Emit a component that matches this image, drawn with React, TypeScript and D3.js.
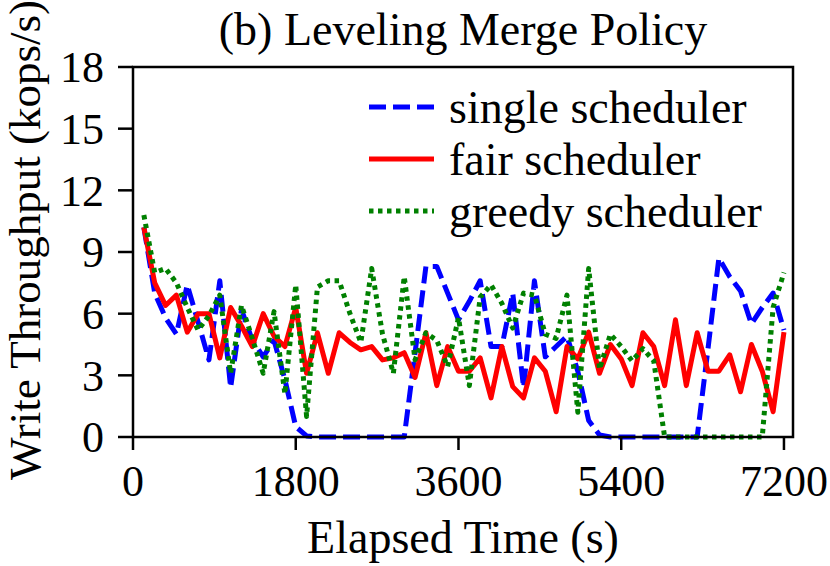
import { useEffect, useRef } from "react";
import * as d3 from "d3";

const TIME = [
  120, 240, 360, 480, 600, 720, 840, 960, 1080, 1200,
  1320, 1440, 1560, 1680, 1800, 1920, 2040, 2160, 2280, 2400,
  2520, 2640, 2760, 2880, 3000, 3120, 3240, 3360, 3480, 3600,
  3720, 3840, 3960, 4080, 4200, 4320, 4440, 4560, 4680, 4800,
  4920, 5040, 5160, 5280, 5400, 5520, 5640, 5760, 5880, 6000,
  6120, 6240, 6360, 6480, 6600, 6720, 6840, 6960, 7080, 7200,
];

// kops/s
const SINGLE = [
  10.2, 7.0, 5.8, 5.0, 7.4, 5.6, 3.75, 7.6, 2.4, 6.2,
  4.7, 3.9, 4.7, 2.8, 0.5, 0.05, 0, 0, 0, 0,
  0, 0, 0, 0, 0, 4.1, 8.3, 8.3, 7.0, 5.7,
  6.6, 7.6, 4.4, 4.4, 7.0, 2.4, 7.6, 3.9, 4.4, 4.9,
  3.2, 0.8, 0.1, 0, 0, 0, 0, 0, 0, 0,
  0, 0, 4.3, 8.7, 7.8, 7.1, 5.5, 6.3, 7.0, 5.2,
];

const FAIR = [
  10.2, 7.5, 6.4, 6.9, 5.1, 6.0, 6.0, 3.85, 6.3, 5.4,
  4.4, 6.0, 4.9, 4.4, 6.3, 3.1, 5.07, 3.1, 5.07, 4.6,
  4.24, 4.4, 3.75, 3.85, 4.1, 2.9, 5.07, 2.5, 4.4, 3.2,
  3.2, 3.85, 1.9, 4.4, 2.45, 1.9, 3.85, 3.2, 1.23, 4.4,
  3.8, 5.1, 3.1, 4.5, 3.8, 2.5, 5.07, 4.4, 2.5, 5.7,
  2.5, 5.07, 3.2, 3.2, 4.0, 2.2, 4.5, 3.2, 1.23, 5.1,
];

const GREEDY = [
  10.8, 8.0, 8.2, 7.5, 6.3, 5.2, 5.9, 6.9, 3.1, 6.4,
  4.8, 3.1, 6.1, 2.1, 7.4, 1.0, 7.3, 7.6, 7.6, 6.0,
  4.6, 8.2, 5.0, 3.1, 7.8, 3.75, 5.07, 4.7, 3.43, 5.8,
  2.5, 6.8, 7.4, 6.5, 5.3, 7.0, 6.9, 5.0, 4.8, 6.9,
  1.2, 8.2, 3.3, 5.0, 4.4, 3.7, 4.3, 3.7, 0, 0,
  0, 0, 0, 0, 0, 0, 0, 0, 6.3, 8.0,
];

const X_TICKS = [0, 1800, 3600, 5400, 7200];
const Y_TICKS = [0, 3, 6, 9, 12, 15, 18];
const NAMES = ["single scheduler", "fair scheduler", "greedy scheduler"];

const FONT = "Liberation Serif, DejaVu Serif, serif";

export default function App() {
  const svgRef = useRef<SVGSVGElement | null>(null);

  useEffect(() => {
    if (!svgRef.current) return;
    const left = 133, right = 793, top = 67, bottom = 437;

    const x = d3.scaleLinear().domain([0, 7300]).range([left, right]);
    const y = d3.scaleLinear().domain([0, 18]).range([bottom, top]);

    const svg = d3.select(svgRef.current).attr("font-family", FONT);
    svg.selectAll("*").remove();

    const series = [
      { name: NAMES[0], values: SINGLE, color: "#0000ff", dash: "17 7" },
      { name: NAMES[1], values: FAIR, color: "#ff0000", dash: null },
      { name: NAMES[2], values: GREEDY, color: "#008000", dash: "4.5 4.5" },
    ];

    const line = d3
      .line<number>()
      .x((_, i) => x(TIME[i]))
      .y((d) => y(d));

    // series paint in legend order, greedy ends up on top
    svg
      .append("g")
      .selectAll("path")
      .data(series)
      .join("path")
      .attr("d", (s) => line(s.values))
      .attr("fill", "none")
      .attr("stroke", (s) => s.color)
      .attr("stroke-width", 5)
      .attr("stroke-linejoin", "round")
      .attr("stroke-dasharray", (s) => s.dash);

    // frame
    svg
      .append("rect")
      .attr("x", left)
      .attr("y", top)
      .attr("width", right - left)
      .attr("height", bottom - top)
      .attr("fill", "none")
      .attr("stroke", "#000")
      .attr("stroke-width", 2.5);

    // y axis
    const yAxis = svg.append("g");
    yAxis
      .selectAll("line")
      .data(Y_TICKS)
      .join("line")
      .attr("x1", left - 15)
      .attr("x2", left)
      .attr("y1", (d) => y(d))
      .attr("y2", (d) => y(d))
      .attr("stroke", "#000")
      .attr("stroke-width", 2.5);
    yAxis
      .selectAll("text")
      .data(Y_TICKS)
      .join("text")
      .attr("x", left - 29)
      .attr("y", (d) => y(d))
      .attr("dy", "0.35em")
      .attr("text-anchor", "end")
      .attr("font-size", 44)
      .text((d) => d);

    // x axis
    const xAxis = svg.append("g");
    xAxis
      .selectAll("line")
      .data(X_TICKS)
      .join("line")
      .attr("x1", (d) => x(d))
      .attr("x2", (d) => x(d))
      .attr("y1", bottom)
      .attr("y2", bottom + 13)
      .attr("stroke", "#000")
      .attr("stroke-width", 2.5);
    xAxis
      .selectAll("text")
      .data(X_TICKS)
      .join("text")
      .attr("x", (d) => x(d))
      .attr("y", 496)
      .attr("text-anchor", "middle")
      .attr("font-size", 44)
      .text((d) => d);

    svg
      .append("text")
      .attr("x", (left + right) / 2)
      .attr("y", 553)
      .attr("text-anchor", "middle")
      .attr("font-size", 46)
      .text("Elapsed Time (s)");

    svg
      .append("text")
      .attr("transform", `translate(40, 240) rotate(-90)`)
      .attr("text-anchor", "middle")
      .attr("font-size", 45)
      .text("Write Throughput (kops/s)");

    svg
      .append("text")
      .attr("x", (left + right) / 2)
      .attr("y", 45)
      .attr("text-anchor", "middle")
      .attr("font-size", 46)
      .text("(b) Leveling Merge Policy");

    // legend
    const lg = svg
      .append("g")
      .selectAll("g")
      .data(series)
      .join("g")
      .attr("transform", (_, i) => `translate(0, ${i * 52})`);
    lg.append("line")
      .attr("x1", 369)
      .attr("x2", 434)
      .attr("y1", 107)
      .attr("y2", 107)
      .attr("stroke", (s) => s.color)
      .attr("stroke-width", 5)
      .attr("stroke-dasharray", (s) => s.dash);
    lg.append("text")
      .attr("x", 449)
      .attr("y", 123)
      .attr("font-size", 46)
      .text((s) => s.name);
  }, []);

  return (
    <div style={{ position: "absolute", left: 0, top: 0 }}>
      <svg
        ref={svgRef}
        width={830}
        height={566}
        style={{ display: "block", background: "#fff" }}
      />
    </div>
  );
}
